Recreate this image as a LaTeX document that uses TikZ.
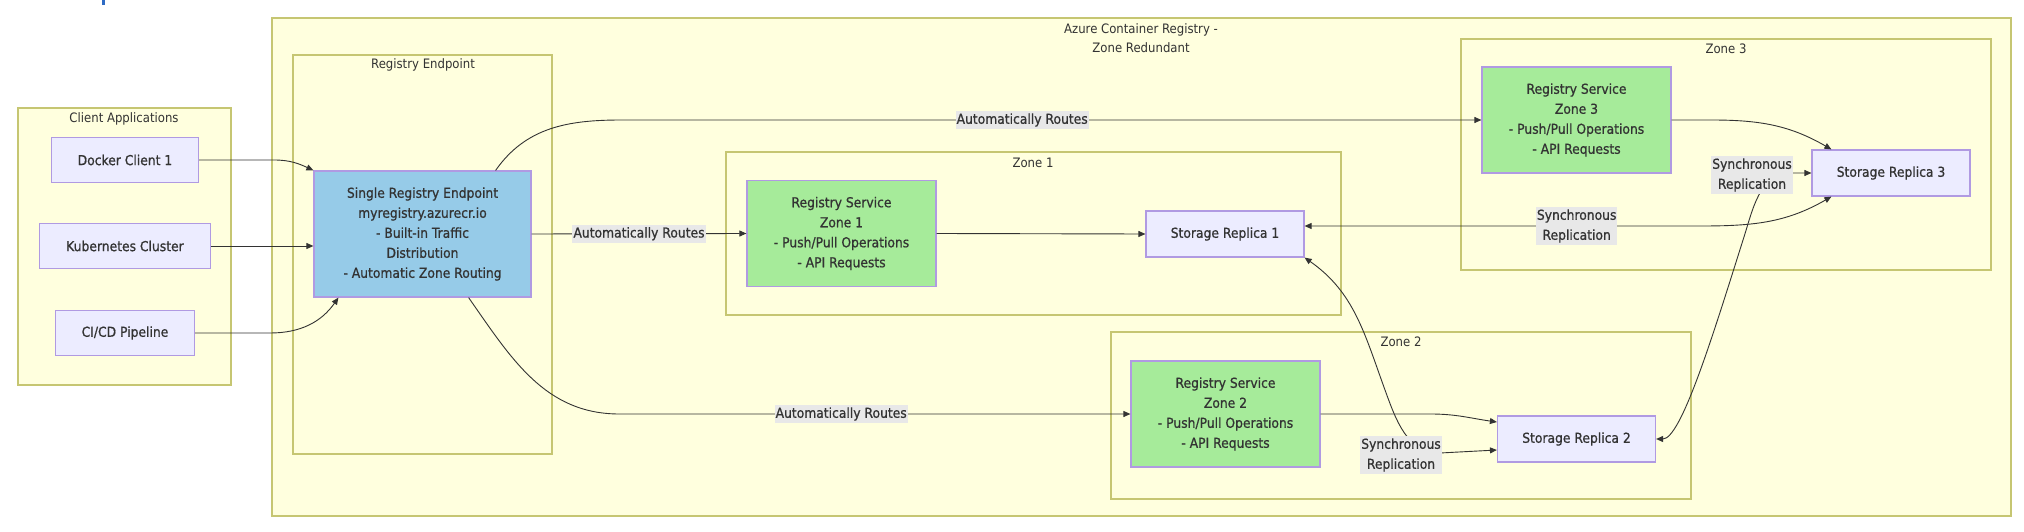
\documentclass[tikz,border=0pt]{standalone}
\usepackage{fontspec}
\setmainfont{DejaVu Sans}[FakeStretch=0.9]
\newfontfamily\boxfont{DejaVu Sans}[FakeStretch=0.9,FakeBold=0.8]
\usetikzlibrary{arrows.meta}
\definecolor{clfill}{HTML}{FFFFDE}
\definecolor{cldraw}{HTML}{C6C672}
\definecolor{ndfill}{HTML}{ECECFF}
\definecolor{nddraw}{HTML}{B09AE2}
\definecolor{epfill}{HTML}{96CBE8}
\definecolor{rsfill}{HTML}{A6EB9A}
\definecolor{lbfill}{HTML}{E8E8E8}
\definecolor{ink}{HTML}{333333}
\definecolor{markblue}{HTML}{2F6BC4}
\begin{document}
\begin{tikzpicture}
		[x=1pt,y=-1pt,%
		  every node/.style={font=\boxfont\fontsize{13.7}{20}\selectfont,text=ink,inner sep=0pt,align=center},
		  cluster/.style={draw=cldraw,fill=clfill,line width=1.2pt},
		  ctitle/.style={font=\rmfamily\fontsize{13}{19}\selectfont},
		  box/.style={draw=nddraw,fill=ndfill,line width=1.2pt,minimum height=45pt},
		  entry/.style={box,fill=epfill},
		  service/.style={box,fill=rsfill,minimum width=189pt,minimum height=106pt},
		  replica/.style={box,minimum width=158pt,minimum height=46pt},
		  elabel/.style={fill=lbfill,inner xsep=1pt,inner ysep=2.5pt},
		  link/.style={draw=ink,line width=0.9pt,-{Triangle[length=7pt,width=6pt]}},
		  twoway/.style={link,{Triangle[length=7pt,width=6pt]}-{Triangle[length=7pt,width=6pt]}}]
		\useasboundingbox (0,0) rectangle (2024,532);
		\fill[markblue] (102,0) rectangle (105,5);
		\node[cluster,minimum width=1739pt,minimum height=498pt] (acr) at (1141.5,267) {};
		\node[cluster,minimum width=213pt,minimum height=277pt] (clients) at (124.5,246.5) {};
		\node[cluster,minimum width=259pt,minimum height=399pt] (endpoint) at (422.5,254.5) {};
		\node[cluster,minimum width=615pt,minimum height=163pt] (zone1) at (1033.5,233.5) {};
		\node[cluster,minimum width=530pt,minimum height=231pt] (zone3) at (1726,154.5) {};
		\node[cluster,minimum width=580pt,minimum height=167pt] (zone2) at (1401,415.5) {};
		\node[ctitle] (acrt) at (1141,38.5) {Azure Container Registry -\\Zone Redundant};
		\node[ctitle] (clientst) at (124,119) {Client Applications};
		\node[ctitle] (endpointt) at (423,65) {Registry Endpoint};
		\node[ctitle] (zone1t) at (1033,163) {Zone 1};
		\node[ctitle] (zone3t) at (1726,49) {Zone 3};
		\node[ctitle] (zone2t) at (1401,342) {Zone 2};
		\node[box,minimum width=147pt] (dock) at (125,160) {Docker Client 1};
		\node[box,minimum width=171pt] (kube) at (125,246) {Kubernetes Cluster};
		\node[box,minimum width=139pt] (cicd) at (125,333) {CI/CD Pipeline};
		\node[entry,minimum width=217pt,minimum height=126pt] (ep) at (422.5,234)
		  {Single Registry Endpoint\\myregistry.azurecr.io\\- Built-in Traffic\\Distribution\\- Automatic Zone Routing};
		\node[service] (rs1) at (841.5,233.5) {Registry Service\\Zone 1\\- Push/Pull Operations\\- API Requests};
		\node[service] (rs3) at (1576.5,120) {Registry Service\\Zone 3\\- Push/Pull Operations\\- API Requests};
		\node[service] (rs2) at (1225.5,414) {Registry Service\\Zone 2\\- Push/Pull Operations\\- API Requests};
		\node[replica] (sr1) at (1225,234) {Storage Replica 1};
		\node[replica] (sr3) at (1891,173) {Storage Replica 3};
		\node[replica] (sr2) at (1576.5,439) {Storage Replica 2};
		\draw[link] (dock.east) -- ++(75,0) to[out=0,in=155] (ep.north west);
		\draw[link] (kube.east) -- (kube.east -| ep.west);
		\draw[link] (cicd.east) -- ++(75,0) to[out=0,in=-125] ([xshift=25pt]ep.south west);
		\draw[link] ([xshift=-36pt]ep.north east) to[out=55,in=180] ([xshift=-860pt]rs3.west)
		  -- node[elabel,pos=0.466] (route3) {Automatically Routes} (rs3.west);
		\draw[link] (ep.east) -- node[elabel] (route1) {Automatically Routes} (rs1.west);
		\draw[link] ([xshift=-63pt]ep.south east) to[out=-55,in=180] ([xshift=-511pt]rs2.west)
		  -- node[elabel,pos=0.434] (route2) {Automatically Routes} (rs2.west);
		\draw[link] (rs1.east) -- (sr1.west);
		\draw[link] (rs3.east) -- ++(40,0) to[out=0,in=150] ([xshift=20pt]sr3.north west);
		\draw[link] (rs2.east) -- ++(110,0) to[out=0,in=172] ([yshift=17pt]sr2.west);
		\draw[twoway] ([yshift=8pt]sr1.east) -- node[elabel,pos=0.687] (sync13) {Synchronous\\Replication} ++(396,0)
		  to[out=0,in=-150] ([xshift=20pt]sr3.south west);
		\draw[twoway] (sr2.east) .. controls +(25,0) and +(-30,95) .. (1743,240)
		  to[out=72,in=180] ([xshift=-20pt]sr3.west) -- (sr3.west);
		\draw[twoway] (sr1.south east) to[out=-35,in=110] (1385,390) to[out=-70,in=180] (1440,453)
		  -- ([yshift=-11pt]sr2.west);
		\node[elabel] (sync23) at (1752,175) {Synchronous\\Replication};
		\node[elabel] (sync12) at (1401,455) {Synchronous\\Replication};
	\end{tikzpicture}
\end{document}
